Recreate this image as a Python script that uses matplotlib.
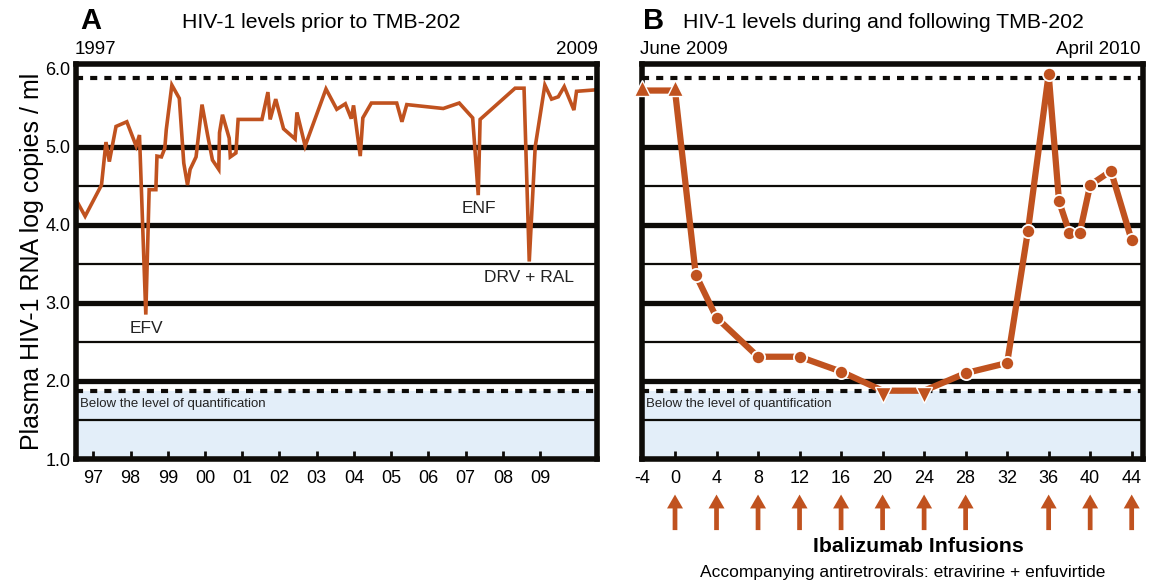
import numpy as np
import matplotlib
matplotlib.use('Agg')
import matplotlib.pyplot as plt

plt.rcParams['font.family'] = ['Liberation Sans', 'DejaVu Sans']

orange = '#c0521f'
ink = '#0d0b08'
band = '#e3eef9'

# 面板 A：1997-2009 病毒载量（十进制年份, log copies/ml）
years_a = [1996.56, 1996.78, 1997.22, 1997.34, 1997.43, 1997.61, 1997.90, 1998.15, 1998.24,
           1998.41, 1998.50, 1998.68, 1998.71, 1998.83, 1998.92, 1998.96, 1999.11, 1999.31,
           1999.43, 1999.53, 1999.60, 1999.76, 1999.92, 2000.07, 2000.20, 2000.37, 2000.39,
           2000.47, 2000.65, 2000.68, 2000.83, 2000.89, 2001.53, 2001.69, 2001.75, 2001.90,
           2002.11, 2002.42, 2002.47, 2002.69, 2003.25, 2003.54, 2003.77, 2003.93, 2003.99,
           2004.17, 2004.24, 2004.47, 2005.15, 2005.29, 2005.42, 2006.40, 2006.83, 2007.19,
           2007.34, 2007.39, 2008.33, 2008.57, 2008.71, 2008.87, 2009.13, 2009.31, 2009.49,
           2009.65, 2009.91, 2009.98, 2010.52]
vl_a = [4.30, 4.11, 4.51, 5.06, 4.81, 5.26, 5.32, 5.01, 5.15,
        2.85, 4.45, 4.45, 4.88, 4.87, 4.98, 5.22, 5.79, 5.62,
        4.79, 4.51, 4.71, 4.87, 5.54, 5.15, 4.83, 4.71, 5.18,
        5.41, 5.11, 4.87, 4.92, 5.35, 5.35, 5.70, 5.35, 5.61,
        5.23, 5.10, 5.44, 5.01, 5.74, 5.48, 5.55, 5.36, 5.53,
        4.88, 5.37, 5.56, 5.56, 5.32, 5.54, 5.49, 5.56, 5.37,
        4.38, 5.35, 5.75, 5.75, 3.53, 5.00, 5.79, 5.61, 5.64,
        5.77, 5.47, 5.71, 5.73]
year_ticks = [1997, 1998, 1999, 2000, 2001, 2002, 2003, 2004, 2005, 2006, 2007, 2008, 2009]
year_labels = ['97', '98', '99', '00', '01', '02', '03', '04', '05', '06', '07', '08', '09']

# 面板 B：TMB-202 期间（周）
weeks_b = np.array([-4, 0, 2, 4, 8, 12, 16, 20, 24, 28, 32, 34, 36, 37, 38, 39, 40, 42, 44])
vl_b = np.array([5.72, 5.72, 3.36, 2.81, 2.31, 2.31, 2.12, 1.875, 1.875, 2.10, 2.23,
                 3.92, 5.93, 4.30, 3.90, 3.90, 4.51, 4.69, 3.80])
# 标记: '^' 高于定量上限, 'v' 低于定量下限, 'o' 可测
marks_b = ['^', '^', 'o', 'o', 'o', 'o', 'o', 'v', 'v', 'o', 'o',
           'o', 'o', 'o', 'o', 'o', 'o', 'o', 'o']
infusion_weeks = [0, 4, 8, 12, 16, 20, 24, 28, 36, 40, 44]
week_ticks = [-4, 0, 4, 8, 12, 16, 20, 24, 28, 32, 36, 40, 44]

lloq = 1.875   # log10(75)
uloq = 5.875   # log10(750000)
ylo, yhi = 1.0, 6.06
xleft_b = -3.18   # 第 -4 周画在左边框上（轴在 0 之前断开）


def frame(ax):
    ax.set_ylim(ylo, yhi)
    ax.axhspan(ylo, lloq, color=band, zorder=0, lw=0)
    for y in [2.0, 3.0, 4.0, 5.0]:
        ax.axhline(y, color=ink, lw=3.8, zorder=1)
    for y in [1.5, 2.5, 3.5, 4.5]:
        ax.axhline(y, color=ink, lw=1.6, zorder=1)
    for y in [lloq, uloq]:
        ax.axhline(y, color=ink, lw=3, ls=(0, (1.7, 1.7)), zorder=1)
    for s in ax.spines.values():
        s.set_linewidth(4)
        s.set_color(ink)
        s.set_zorder(5)
    ax.tick_params(axis='x', direction='in', length=6, width=2, color=ink,
                   labelsize=13, pad=8)
    ax.tick_params(axis='y', length=0, labelsize=13, pad=4)
    ax.text(0.007, (1.66 - ylo) / (yhi - ylo), 'Below the level of quantification',
            transform=ax.transAxes, fontsize=9.5, color='#222222', zorder=3)


fig = plt.figure(figsize=(11.5, 5.83), dpi=100)
axA = fig.add_axes([76 / 1150, 124 / 583, 521 / 1150, 395 / 583])
axB = fig.add_axes([642 / 1150, 124 / 583, 501 / 1150, 395 / 583])

# ---- A ----
frame(axA)
axA.plot(years_a, vl_a, color=orange, lw=2.6, zorder=4, solid_joinstyle='miter')
axA.set_xlim(1996.535, 2010.53)
axA.set_xticks(year_ticks)
axA.set_xticklabels(year_labels)
axA.set_yticks([1, 2, 3, 4, 5, 6])
axA.set_yticklabels(['1.0', '2.0', '3.0', '4.0', '5.0', '6.0'])
axA.set_ylabel('Plasma HIV-1 RNA log copies / ml', fontsize=18, labelpad=1)
axA.text(1998.42, 2.67, 'EFV', ha='center', va='center', fontsize=12.5, color='#222222', zorder=3)
axA.text(2007.35, 4.3, 'ENF', ha='center', va='top', fontsize=12.5, color='#222222', zorder=3)
axA.text(2008.7, 3.33, 'DRV + RAL', ha='center', va='center', fontsize=12.5, color='#222222', zorder=3)

# ---- B ----
frame(axB)
xpos_b = np.where(weeks_b < 0, xleft_b, weeks_b)
axB.plot(xpos_b, vl_b, color=orange, lw=4.5, zorder=4, clip_on=False)
for x, y, m in zip(xpos_b, vl_b, marks_b):
    if m == 'o':
        axB.plot(x, y, 'o', ms=9.5, mfc=orange, mec='white', mew=1.3, zorder=6, clip_on=False)
    elif m == '^':
        axB.plot(x, y + 0.03, '^', ms=12, mfc=orange, mec='white', mew=1, zorder=6, clip_on=False)
    else:
        axB.plot(x, y - 0.05, 'v', ms=12, mfc=orange, mec='white', mew=1, zorder=6, clip_on=False)
axB.set_xlim(xleft_b, 45.09)
tick_pos_b = [xleft_b if w < 0 else w for w in week_ticks]
axB.set_xticks(tick_pos_b)
axB.set_xticklabels([str(w) for w in week_ticks])
axB.set_yticks([])

for w in infusion_weeks:
    axB.annotate('', xy=(w, -0.09), xytext=(w, -0.18),
                 xycoords=('data', 'axes fraction'), textcoords=('data', 'axes fraction'),
                 arrowprops=dict(width=3.4, headwidth=11.5, headlength=10, shrink=0,
                                 color=orange, lw=0),
                 annotation_clip=False)

# ---- 标题和文字 ----
fig.text(80 / 1150, 1 - 21 / 583, 'A', fontsize=21, fontweight='bold', va='center')
fig.text(321 / 1150, 1 - 23 / 583, 'HIV-1 levels prior to TMB-202', fontsize=15.3, ha='center', va='center')
fig.text(643 / 1150, 1 - 21 / 583, 'B', fontsize=21, fontweight='bold', va='center')
fig.text(683 / 1150, 1 - 23 / 583, 'HIV-1 levels during and following TMB-202', fontsize=15.3, va='center')
fig.text(75 / 1150, 1 - 50 / 583, '1997', fontsize=13.5, va='center')
fig.text(598 / 1150, 1 - 50 / 583, '2009', fontsize=13.5, ha='right', va='center')
fig.text(640 / 1150, 1 - 50 / 583, 'June 2009', fontsize=13.5, va='center')
fig.text(1141 / 1150, 1 - 50 / 583, 'April 2010', fontsize=13.5, ha='right', va='center')
fig.text(918 / 1150, 1 - 546 / 583, 'Ibalizumab Infusions', fontsize=15.3, fontweight='bold',
         ha='center', va='center')
fig.text(903 / 1150, 1 - 572 / 583, 'Accompanying antiretrovirals: etravirine + enfuvirtide',
         fontsize=12.5, ha='center', va='center')

fig.savefig('out.png', dpi=100)
